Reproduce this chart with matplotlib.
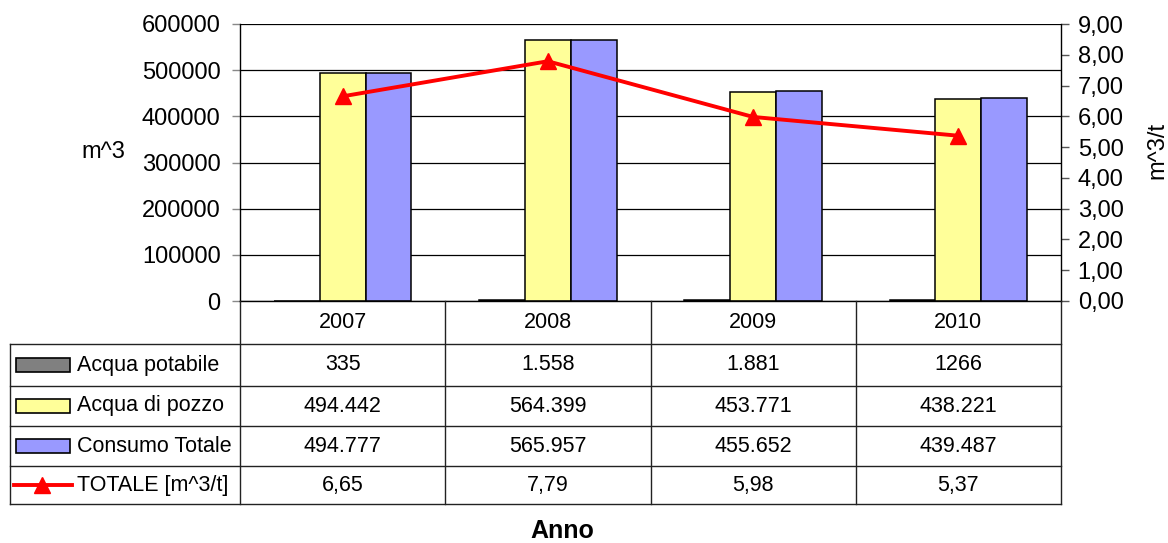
import numpy as np
import matplotlib
matplotlib.use("Agg")
import matplotlib.pyplot as plt
from matplotlib.lines import Line2D
from matplotlib.patches import Rectangle
from matplotlib.ticker import FuncFormatter
import matplotlib.transforms as mtransforms

plt.rcParams["font.family"] = ["Liberation Sans", "DejaVu Sans"]

years = ["2007", "2008", "2009", "2010"]
acqua_potabile = [335, 1558, 1881, 1266]
acqua_potabile_labels = ["335", "1.558", "1.881", "1266"]
acqua_pozzo = [494442, 564399, 453771, 438221]
consumo_totale = [494777, 565957, 455652, 439487]
totale_m3t = [6.65, 7.79, 5.98, 5.37]

series_names = ["Acqua potabile", "Acqua di pozzo", "Consumo Totale", "TOTALE [m^3/t]"]
bar_colors = ["#808080", "#FFFF99", "#9999FF"]
line_color = "#FF0000"

W, H = 1168, 543


def fx(px):
    return px / W


def fy(py):
    return 1 - py / H


def thousands(v):
    return f"{v:,}".replace(",", ".")


fig = plt.figure(figsize=(W / 100, H / 100), dpi=100)
ax = fig.add_axes([fx(240), fy(301), fx(1061) - fx(240), fy(24) - fy(301)])

x = np.arange(len(years)) + 0.5
bw = 0.223
for k, vals in enumerate([acqua_potabile, acqua_pozzo, consumo_totale]):
    ax.bar(x + (k - 1) * bw, vals, bw, color=bar_colors[k],
           edgecolor="black", linewidth=1.1, zorder=2)

ax.set_xlim(0, len(years))
ax.set_ylim(0, 600000)
ax.set_yticks(np.arange(0, 600001, 100000))
ax.yaxis.grid(True, color="black", linewidth=0.9)
ax.set_axisbelow(True)
ax.set_xticks([])
ax.tick_params(axis="y", labelsize=17, length=6, width=1, color="#888888", pad=8)
ax.spines["top"].set_visible(False)
ax.spines["right"].set_visible(False)
ax.spines["left"].set_linewidth(1)
ax.spines["bottom"].set_linewidth(1)
ax.spines["bottom"].set_zorder(3)

ax2 = ax.twinx()
ax2.plot(x, totale_m3t, color=line_color, linewidth=2.8, marker="^",
         markersize=11, zorder=3)
ax2.set_ylim(0, 9)
ax2.set_yticks(np.arange(0, 10, 1))
ax2.yaxis.set_major_formatter(FuncFormatter(lambda v, p: f"{v:.2f}".replace(".", ",")))
ax2.tick_params(axis="y", labelsize=17, length=6, width=1, color="#555555", pad=6)
for s in ["top", "bottom", "left"]:
    ax2.spines[s].set_visible(False)
ax2.spines["right"].set_linewidth(1)

fig.text(fx(103), fy(152), "m^3", fontsize=17, ha="center", va="center")
fig.text(fx(1157), fy(150), "m^3/t", fontsize=17, ha="center", va="center", rotation=90)

# data table below the plot
blend = mtransforms.blended_transform_factory(ax.transData, fig.transFigure)
row_edges = [301, 344, 386, 426, 466, 504]
lc = "#222222"
lw = 1.0

for i in range(len(years) + 1):
    fig.add_artist(Line2D([i, i], [fy(301), fy(504)], transform=blend,
                          color=lc, linewidth=lw))
for py in row_edges[1:]:
    fig.add_artist(Line2D([fx(10), fx(1061)], [fy(py), fy(py)],
                          color=lc, linewidth=lw))
fig.add_artist(Line2D([fx(10), fx(10)], [fy(344), fy(504)], color=lc, linewidth=lw))

centers = [(row_edges[j] + row_edges[j + 1]) / 2 for j in range(len(row_edges) - 1)]
for i, yr in enumerate(years):
    fig.text(x[i], fy(centers[0]), yr, transform=blend, fontsize=15.5,
             ha="center", va="center")

rows = [
    acqua_potabile_labels,
    [thousands(v) for v in acqua_pozzo],
    [thousands(v) for v in consumo_totale],
    [f"{v:.2f}".replace(".", ",") for v in totale_m3t],
]
for r, labels in enumerate(rows):
    cy = fy(centers[r + 1])
    for i, lab in enumerate(labels):
        fig.text(x[i], cy, lab, transform=blend, fontsize=15.5,
                 ha="center", va="center")
    fig.text(fx(77), cy, series_names[r], fontsize=15.5, ha="left", va="center")
    if r < 3:
        fig.add_artist(Rectangle((fx(16), cy - 7 / H), fx(54), 14 / H,
                                 facecolor=bar_colors[r], edgecolor="black",
                                 linewidth=1.2, transform=fig.transFigure))
    else:
        fig.add_artist(Line2D([fx(14), fx(72)], [cy, cy], color=line_color,
                              linewidth=2.8, transform=fig.transFigure))
        fig.add_artist(Line2D([fx(42)], [cy], color=line_color, marker="^",
                              markersize=11, transform=fig.transFigure))

fig.text(fx(562), fy(531), "Anno", fontsize=18, fontweight="bold",
         ha="center", va="center")

fig.savefig("out.png", dpi=100)
